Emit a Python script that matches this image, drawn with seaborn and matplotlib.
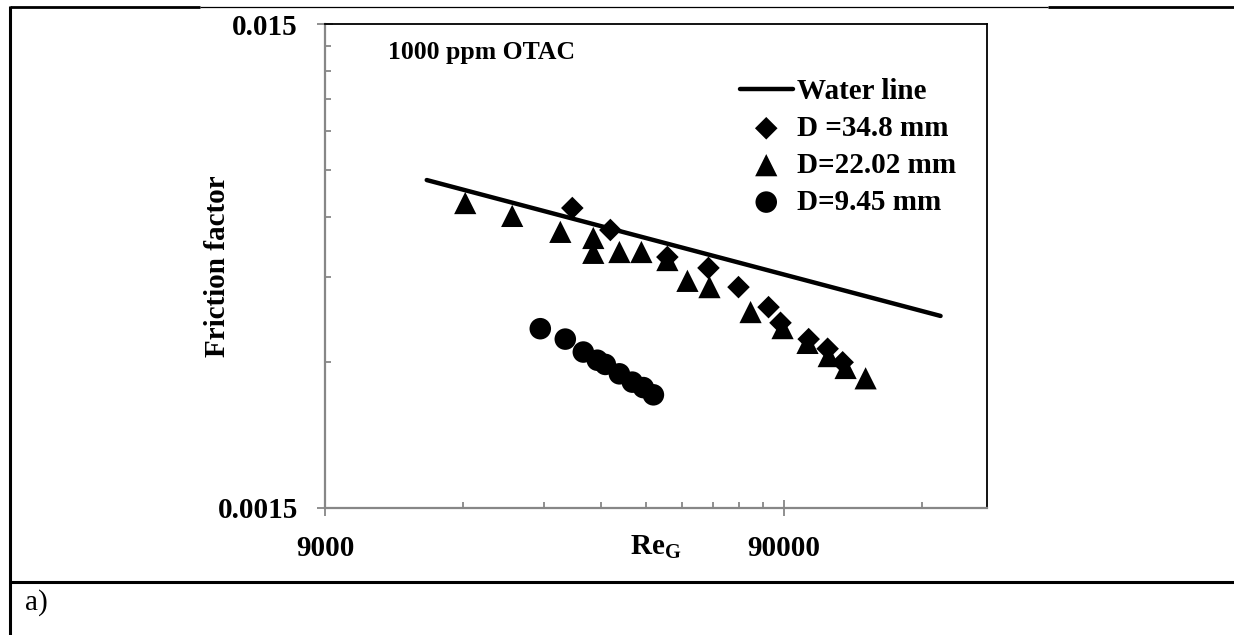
import matplotlib
matplotlib.use("Agg")
import matplotlib.pyplot as plt
from matplotlib.lines import Line2D
from matplotlib.ticker import FixedLocator, NullFormatter, FixedFormatter
import seaborn as sns
import pandas as pd

# Water line (two end points)
water_re = [15000, 198000]
water_f = [0.00714, 0.00374]

# D = 34.8 mm
re_348 = [31160, 37720, 50220, 61730, 71780, 83470, 88640, 102100, 112300, 121100]
f_348 = [0.00625, 0.00563, 0.00495, 0.00470, 0.00429, 0.00390, 0.00362, 0.00335, 0.00320, 0.00300]

# D = 22.02 mm
re_2202 = [18200, 23040, 29340, 34620, 34620, 39470, 44080, 50220, 55540, 62040,
           76260, 89550, 101500, 112900, 122900, 135900]
f_2202 = [0.00640, 0.00602, 0.00558, 0.00542, 0.00505, 0.00507, 0.00507, 0.00488, 0.00442, 0.00429,
          0.00381, 0.00353, 0.00329, 0.00309, 0.00292, 0.00278]

# D = 9.45 mm
re_945 = [26530, 30080, 32930, 35330, 36780, 39470, 42120, 44520, 46820]
f_945 = [0.00352, 0.00335, 0.00315, 0.00303, 0.00297, 0.00284, 0.00273, 0.00266, 0.00257]

series_labels = ["Water line", "D =34.8 mm", "D=22.02 mm", "D=9.45 mm"]
x_major = [9000, 90000]
x_major_labels = ["9000", "90000"]
y_major = [0.0015, 0.015]
y_major_labels = ["0.0015", "0.015"]
x_minor = [18000, 27000, 36000, 45000, 54000, 63000, 72000, 81000, 180000]
y_minor = [0.003, 0.0045, 0.006, 0.0075, 0.009, 0.0105, 0.012, 0.0135]

sns.set_style("white")
plt.rcParams["font.family"] = ["Liberation Serif", "DejaVu Serif"]
plt.rcParams["text.color"] = "black"
plt.rcParams["axes.labelcolor"] = "black"
plt.rcParams["xtick.color"] = "black"
plt.rcParams["ytick.color"] = "black"
plt.rcParams["mathtext.fontset"] = "custom"
plt.rcParams["mathtext.rm"] = "Liberation Serif"
plt.rcParams["mathtext.bf"] = "Liberation Serif:bold"
plt.rcParams["mathtext.it"] = "Liberation Serif:italic"

W, H = 1234, 635
fig = plt.figure(figsize=(W / 100, H / 100), dpi=100)
ax = fig.add_axes([325 / W, 1 - 508 / H, (987 - 325) / W, (508 - 24) / H])

df_w = pd.DataFrame({"Re": water_re, "f": water_f})
df_a = pd.DataFrame({"Re": re_348, "f": f_348})
df_b = pd.DataFrame({"Re": re_2202, "f": f_2202})
df_c = pd.DataFrame({"Re": re_945, "f": f_945})

sns.lineplot(data=df_w, x="Re", y="f", ax=ax, color="black", linewidth=3.2,
             label=series_labels[0], solid_capstyle="round", zorder=2)
sns.scatterplot(data=df_a, x="Re", y="f", ax=ax, marker="D", s=11.5 ** 2,
                color="black", edgecolor="none", label=series_labels[1], zorder=3)
sns.scatterplot(data=df_b, x="Re", y="f", ax=ax, marker="^", s=16 ** 2,
                color="black", edgecolor="none", label=series_labels[2], zorder=3)
sns.scatterplot(data=df_c, x="Re", y="f", ax=ax, marker="o", s=15.5 ** 2,
                color="black", edgecolor="none", label=series_labels[3], zorder=3)

ax.set_xscale("log")
ax.set_yscale("log")
ax.set_xlim(9000, 250000)
ax.set_ylim(0.0015, 0.015)

ax.xaxis.set_major_locator(FixedLocator(x_major))
ax.xaxis.set_major_formatter(FixedFormatter(x_major_labels))
ax.xaxis.set_minor_locator(FixedLocator(x_minor))
ax.xaxis.set_minor_formatter(NullFormatter())
ax.yaxis.set_major_locator(FixedLocator(y_major))
ax.yaxis.set_major_formatter(FixedFormatter(y_major_labels))
ax.yaxis.set_minor_locator(FixedLocator(y_minor))
ax.yaxis.set_minor_formatter(NullFormatter())

grey = "#878787"
for side in ("left", "bottom"):
    ax.spines[side].set_color(grey)
    ax.spines[side].set_linewidth(1.6)
for side in ("top", "right"):
    ax.spines[side].set_color("black")
    ax.spines[side].set_linewidth(1.3)

ax.tick_params(which="both", bottom=True, left=True, top=False, right=False)
ax.tick_params(which="major", direction="inout", length=11, width=1.3, color=grey,
               labelcolor="black", labelsize=21)
ax.tick_params(which="minor", direction="in", length=4.5, width=1.3, color=grey)
ax.tick_params(axis="y", which="major", pad=14)
ax.tick_params(axis="x", which="major", pad=14)
for lab in ax.get_xticklabels() + ax.get_yticklabels():
    lab.set_fontweight("bold")

ax.set_ylabel("Friction factor", fontsize=21, fontweight="bold", color="black")
ax.yaxis.label.set_va("center")
ax.yaxis.set_label_coords(-0.163, 0.5)
ax.set_xlabel(r"Re$_{\mathbf{G}}$", fontsize=21, fontweight="bold", color="black")
ax.xaxis.label.set_va("center")
ax.xaxis.set_label_coords(0.5, -(547 - 508) / (508 - 24))

fig.text(388 / W, 1 - 52 / H, "1000 ppm OTAC", fontsize=18.5, fontweight="bold",
         ha="left", va="center", color="black")

handles, labels = ax.get_legend_handles_labels()
leg = ax.legend(handles, labels, loc="upper left", bbox_to_anchor=(740 / W, 1 - 78 / H),
                bbox_transform=fig.transFigure, frameon=False,
                prop=dict(family="Liberation Serif", weight="bold", size=21),
                handlelength=1.8, handletextpad=0.15, labelspacing=0.34,
                borderpad=0, borderaxespad=0)
for t in leg.get_texts():
    t.set_color("black")

# surrounding table rules
def rule(x0, y0, x1, y1, lw):
    fig.add_artist(Line2D([x0 / W, x1 / W], [1 - y0 / H, 1 - y1 / H],
                          transform=fig.transFigure, color="black", linewidth=lw,
                          solid_capstyle="butt"))

rule(10, 7, 200, 7, 2.0)
rule(200, 7, 1048, 7, 0.9)
rule(1048, 7, 1234, 7, 2.0)
rule(10, 6, 10, 635, 2.2)
rule(10, 582, 1234, 582, 2.2)

fig.text(25 / W, 1 - 603 / H, "a)", fontsize=21, ha="left", va="center", color="black")

fig.savefig("out.png", dpi=100)
